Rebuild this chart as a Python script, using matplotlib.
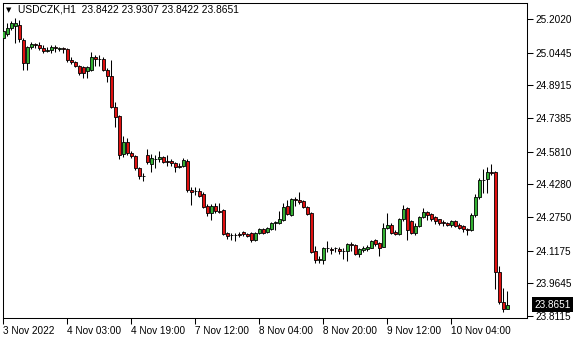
import numpy as np
import matplotlib.pyplot as plt
import matplotlib.transforms as mtransforms

plt.rcParams['font.family'] = ['Liberation Sans', 'DejaVu Sans']

# hourly USDCZK candles
opens = [25.1130, 25.1318, 25.1599, 25.1693, 25.1740, 25.1037, 24.9961, 25.0709, 25.0850, 25.0803,
         25.0662, 25.0522, 25.0569, 25.0709, 25.0616, 25.0662, 25.0616, 25.0101, 25.0007, 24.9820,
         24.9773, 24.9586, 24.9633, 25.0241, 25.0148, 25.0148, 24.9633, 24.9352, 24.7900, 24.7479,
         24.5700, 24.6262, 24.5747, 24.5606, 24.5044, 24.4670, 24.5653, 24.5232, 24.5466, 24.5466,
         24.5559, 24.5372, 24.5372, 24.5279, 24.5138, 24.5138, 24.5372, 24.4015, 24.3968, 24.3968,
         24.3828, 24.3265, 24.2938, 24.3265, 24.3031, 24.3078, 24.2002, 24.1908, 24.1908, 24.1955,
         24.2048, 24.1955, 24.2002, 24.1674, 24.2002, 24.2189, 24.2048, 24.2189, 24.2470, 24.2470,
         24.2610, 24.3265, 24.2844, 24.3594, 24.3546, 24.3499, 24.3218, 24.2938, 24.1159, 24.0737,
         24.0737, 24.1299, 24.1253, 24.1299, 24.1253, 24.1159, 24.1159, 24.1487, 24.1440, 24.1019,
         24.1206, 24.1253, 24.1299, 24.1674, 24.1534, 24.1346, 24.2235, 24.2376, 24.2048, 24.1955,
         24.2657, 24.3171, 24.2563, 24.2002, 24.2329, 24.2750, 24.2984, 24.2891, 24.2750, 24.2657,
         24.2516, 24.2470, 24.2376, 24.2563, 24.2376, 24.2329, 24.2189, 24.2142, 24.2844, 24.3687,
         24.4483, 24.4530, 24.4857, 24.4857, 24.0175, 23.8771, 23.8422]
highs = [25.1553, 25.1834, 25.1927, 25.2067, 25.1974, 25.1130, 25.0756, 25.0943, 25.0897, 25.0943,
         25.0803, 25.0709, 25.0803, 25.0803, 25.0709, 25.0709, 25.0662, 25.0241, 25.0054, 24.9867,
         24.9820, 24.9820, 25.0475, 25.0335, 25.0335, 25.0241, 24.9727, 25.0101, 24.8134, 24.7526,
         24.6543, 24.6449, 24.5840, 24.5653, 24.5091, 24.4811, 24.5935, 24.5700, 24.5653, 24.5840,
         24.5606, 24.5653, 24.5466, 24.5325, 24.5279, 24.5512, 24.5466, 24.4155, 24.4155, 24.4108,
         24.3921, 24.3359, 24.3359, 24.3406, 24.3406, 24.3125, 24.2048, 24.2002, 24.2002, 24.2048,
         24.2095, 24.2002, 24.2048, 24.2048, 24.2235, 24.2235, 24.2282, 24.2516, 24.2563, 24.3031,
         24.3406, 24.3546, 24.3640, 24.3687, 24.3921, 24.3546, 24.3265, 24.2984, 24.1393, 24.0925,
         24.1346, 24.1627, 24.1346, 24.1346, 24.1346, 24.1299, 24.1534, 24.1580, 24.1487, 24.1299,
         24.1393, 24.1440, 24.1674, 24.1721, 24.1580, 24.2470, 24.2938, 24.2470, 24.2142, 24.2704,
         24.3312, 24.3218, 24.2610, 24.2470, 24.2797, 24.3171, 24.3031, 24.2938, 24.2797, 24.2680,
         24.2610, 24.2516, 24.2610, 24.2587, 24.2470, 24.2376, 24.2235, 24.2938, 24.3828, 24.4577,
         24.4998, 24.5091, 24.5232, 24.4904, 24.0456, 23.9426, 23.9307]
lows = [25.0990, 25.1224, 25.1505, 25.0897, 25.0943, 24.9633, 24.9633, 25.0616, 25.0662, 25.0569,
        25.0429, 25.0475, 25.0429, 25.0475, 25.0522, 25.0429, 25.0007, 24.9914, 24.9773, 24.9399,
        24.9258, 24.9258, 24.9586, 24.9820, 24.9820, 24.9586, 24.9071, 24.7853, 24.6964, 24.5466,
        24.5559, 24.5653, 24.5512, 24.4951, 24.4530, 24.4436, 24.5232, 24.4857, 24.5044, 24.5325,
        24.5279, 24.5138, 24.5138, 24.4857, 24.5044, 24.5091, 24.3921, 24.3312, 24.3781, 24.3687,
        24.3171, 24.2797, 24.2610, 24.2938, 24.2938, 24.1908, 24.1721, 24.1674, 24.1627, 24.1814,
        24.1861, 24.1814, 24.1580, 24.1627, 24.1978, 24.1955, 24.2002, 24.2142, 24.2142, 24.2446,
        24.2563, 24.2844, 24.2797, 24.3265, 24.3359, 24.3171, 24.2844, 24.1066, 24.0597, 24.0597,
        24.0550, 24.1112, 24.1019, 24.1112, 24.1019, 24.0784, 24.0690, 24.1159, 24.0972, 24.0878,
        24.1112, 24.1159, 24.1276, 24.1393, 24.0925, 24.1323, 24.2189, 24.1955, 24.1908, 24.1908,
        24.2563, 24.1674, 24.1978, 24.1908, 24.2282, 24.2704, 24.2610, 24.2563, 24.2423, 24.2376,
        24.2329, 24.2329, 24.2282, 24.2282, 24.2189, 24.2048, 24.1908, 24.2095, 24.2750, 24.3594,
        24.3874, 24.3874, 24.4717, 23.9380, 23.8678, 23.8303, 23.8422]
closes = [25.1458, 25.1599, 25.1834, 25.1834, 25.1084, 24.9961, 25.0709, 25.0850, 25.0803, 25.0662,
          25.0522, 25.0569, 25.0709, 25.0662, 25.0662, 25.0616, 25.0101, 25.0007, 24.9820, 24.9493,
          24.9493, 24.9773, 25.0241, 25.0148, 25.0125, 24.9633, 24.9352, 24.7900, 24.7432, 24.5653,
          24.6262, 24.5747, 24.5606, 24.5044, 24.4670, 24.4650, 24.5325, 24.5512, 24.5443, 24.5559,
          24.5325, 24.5349, 24.5279, 24.5091, 24.5115, 24.5419, 24.4015, 24.3921, 24.3945, 24.3734,
          24.3218, 24.2938, 24.3265, 24.3031, 24.3008, 24.1955, 24.1861, 24.1885, 24.1931, 24.1931,
          24.1955, 24.1861, 24.1674, 24.2002, 24.2189, 24.2002, 24.2235, 24.2470, 24.2516, 24.2657,
          24.3218, 24.2891, 24.3594, 24.3570, 24.3452, 24.3218, 24.2891, 24.1112, 24.0737, 24.0761,
          24.1299, 24.1276, 24.1229, 24.1276, 24.1159, 24.1136, 24.1487, 24.1463, 24.1019, 24.1253,
          24.1299, 24.1346, 24.1627, 24.1487, 24.1299, 24.2235, 24.2376, 24.2002, 24.1955, 24.2657,
          24.3125, 24.2142, 24.2002, 24.2329, 24.2750, 24.2984, 24.2844, 24.2657, 24.2563, 24.2470,
          24.2493, 24.2376, 24.2563, 24.2329, 24.2235, 24.2189, 24.2165, 24.2844, 24.3687, 24.4483,
          24.4506, 24.4857, 24.4834, 24.0175, 23.8771, 23.8430, 23.8651]

price_ticks = [25.2020, 25.0445, 24.8915, 24.7385, 24.5810, 24.4280, 24.2750, 24.1175, 23.9645, 23.8115]
time_ticks = [0, 16, 32, 48, 64, 80, 96, 112]
time_labels = ["3 Nov 2022", "4 Nov 03:00", "4 Nov 19:00", "7 Nov 12:00",
               "8 Nov 04:00", "8 Nov 20:00", "9 Nov 12:00", "10 Nov 04:00"]
symbol = "USDCZK,H1"

o = np.array(opens); h = np.array(highs); l = np.array(lows); c = np.array(closes)
x = np.arange(len(c))

fig = plt.figure(figsize=(5.8, 3.4), dpi=100)
ax = fig.add_axes([2.5/580, 22/340, 524/580, 315/340])

green = '#33b033'
red = '#e01010'
cols = np.where(c > o, green, red)

ax.vlines(x, l, h, color='black', linewidth=0.75, zorder=2)
bottom = np.minimum(o, c)
height = np.maximum(np.abs(c - o), 1e-5)
ax.bar(x, height, bottom=bottom, width=0.62, color=cols, edgecolor='black',
       linewidth=0.6, zorder=3)

ax.set_xlim(-0.2, 130.8)
ax.set_ylim(23.8022, 25.2770)

for s in ax.spines.values():
    s.set_linewidth(0.75)
    s.set_color('black')

ax.yaxis.tick_right()
ax.set_yticks(price_ticks)
ax.set_yticklabels(["%.4f" % v for v in price_ticks])
ax.set_xticks(time_ticks)
ax.set_xticklabels(time_labels, ha='left')
ax.tick_params(axis='y', direction='out', length=4, width=0.75, pad=2.5, labelsize=7.2)
ax.tick_params(axis='x', direction='out', length=4, width=0.75, pad=1.5, labelsize=7.2)

# current price tag
trans = mtransforms.blended_transform_factory(ax.transAxes, ax.transData)
ax.text(1 + 8/524, c[-1], "%.4f" % c[-1], transform=trans, color='white', fontsize=7.2,
        va='center', ha='left',
        bbox=dict(facecolor='black', edgecolor='none', boxstyle='square,pad=0.25'))

# header
fig.text(6/580, 1 - 10/340, u"\u25BC", fontsize=5, family='DejaVu Sans', va='center')
fig.text(18/580, 1 - 10/340, "%s  %.4f %.4f %.4f %.4f" % (symbol, o[-1], h[-1], l[-1], c[-1]),
         fontsize=7.4, va='center')

fig.savefig("out.png", dpi=100)
